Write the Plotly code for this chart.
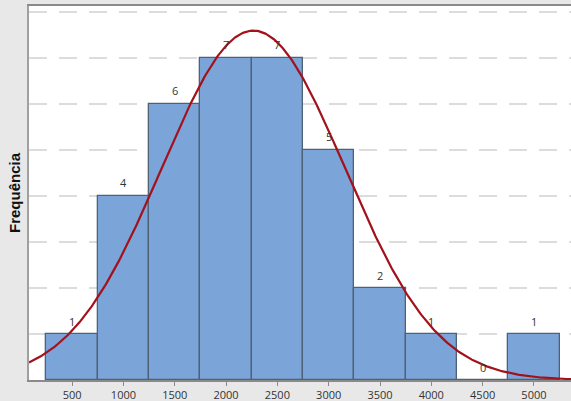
import numpy as np
import plotly.graph_objects as go

bin_centers = [500, 1000, 1500, 2000, 2500, 3000, 3500, 4000, 4500, 5000]
counts = [1, 4, 6, 7, 7, 5, 2, 1, 0, 1]
tick_vals = [500, 1000, 1500, 2000, 2500, 3000, 3500, 4000, 4500, 5000]
bin_width = 500
fit_mean = 2266
fit_sd = 893

n_total = sum(counts)
xc = np.linspace(80, 5361, 400)
yc = n_total * bin_width / (fit_sd * np.sqrt(2 * np.pi)) * np.exp(-0.5 * ((xc - fit_mean) / fit_sd) ** 2)

fig = go.Figure()
fig.add_trace(go.Bar(
    x=bin_centers, y=counts, width=bin_width,
    marker=dict(color="#7ba4d9", line=dict(color="#4f6275", width=1.3)),
    hoverinfo="skip",
))
fig.add_trace(go.Scatter(
    x=xc, y=yc, mode="lines",
    line=dict(color="#a3121c", width=2.2),
    hoverinfo="skip",
))
for xv, cv in zip(bin_centers, counts):
    fig.add_annotation(x=xv, y=cv, text=str(cv), showarrow=False,
                       yanchor="middle", yshift=13,
                       font=dict(family="Open Sans", size=11, color="#333333"))

fig.update_layout(
    width=571, height=401,
    margin=dict(l=29, r=0, t=6, b=21),
    paper_bgcolor="#e8e8e8",
    plot_bgcolor="#ffffff",
    showlegend=False,
    bargap=0,
    xaxis=dict(
        range=[80, 5361], tickvals=tick_vals,
        ticks="outside", ticklen=4, tickcolor="#8a8a8a",
        showline=True, linecolor="#8a8a8a", linewidth=1.5, mirror=True,
        showgrid=False, zeroline=False,
        tickfont=dict(family="Open Sans", size=11, color="#333333"),
    ),
    yaxis=dict(
        range=[0, 8.13], tickvals=[1, 2, 3, 4, 5, 6, 7, 8],
        showticklabels=False, ticks="",
        showline=True, linecolor="#a0a0a0", linewidth=1.5,
        showgrid=True, gridcolor="#dcdcdc", gridwidth=1.5, griddash="18px,12px",
        zeroline=False,
        title=dict(text="<b>Frequência</b>", standoff=3,
                   font=dict(family="Liberation Sans", size=15, color="#111111")),
    ),
)
fig.write_html("out.html")
